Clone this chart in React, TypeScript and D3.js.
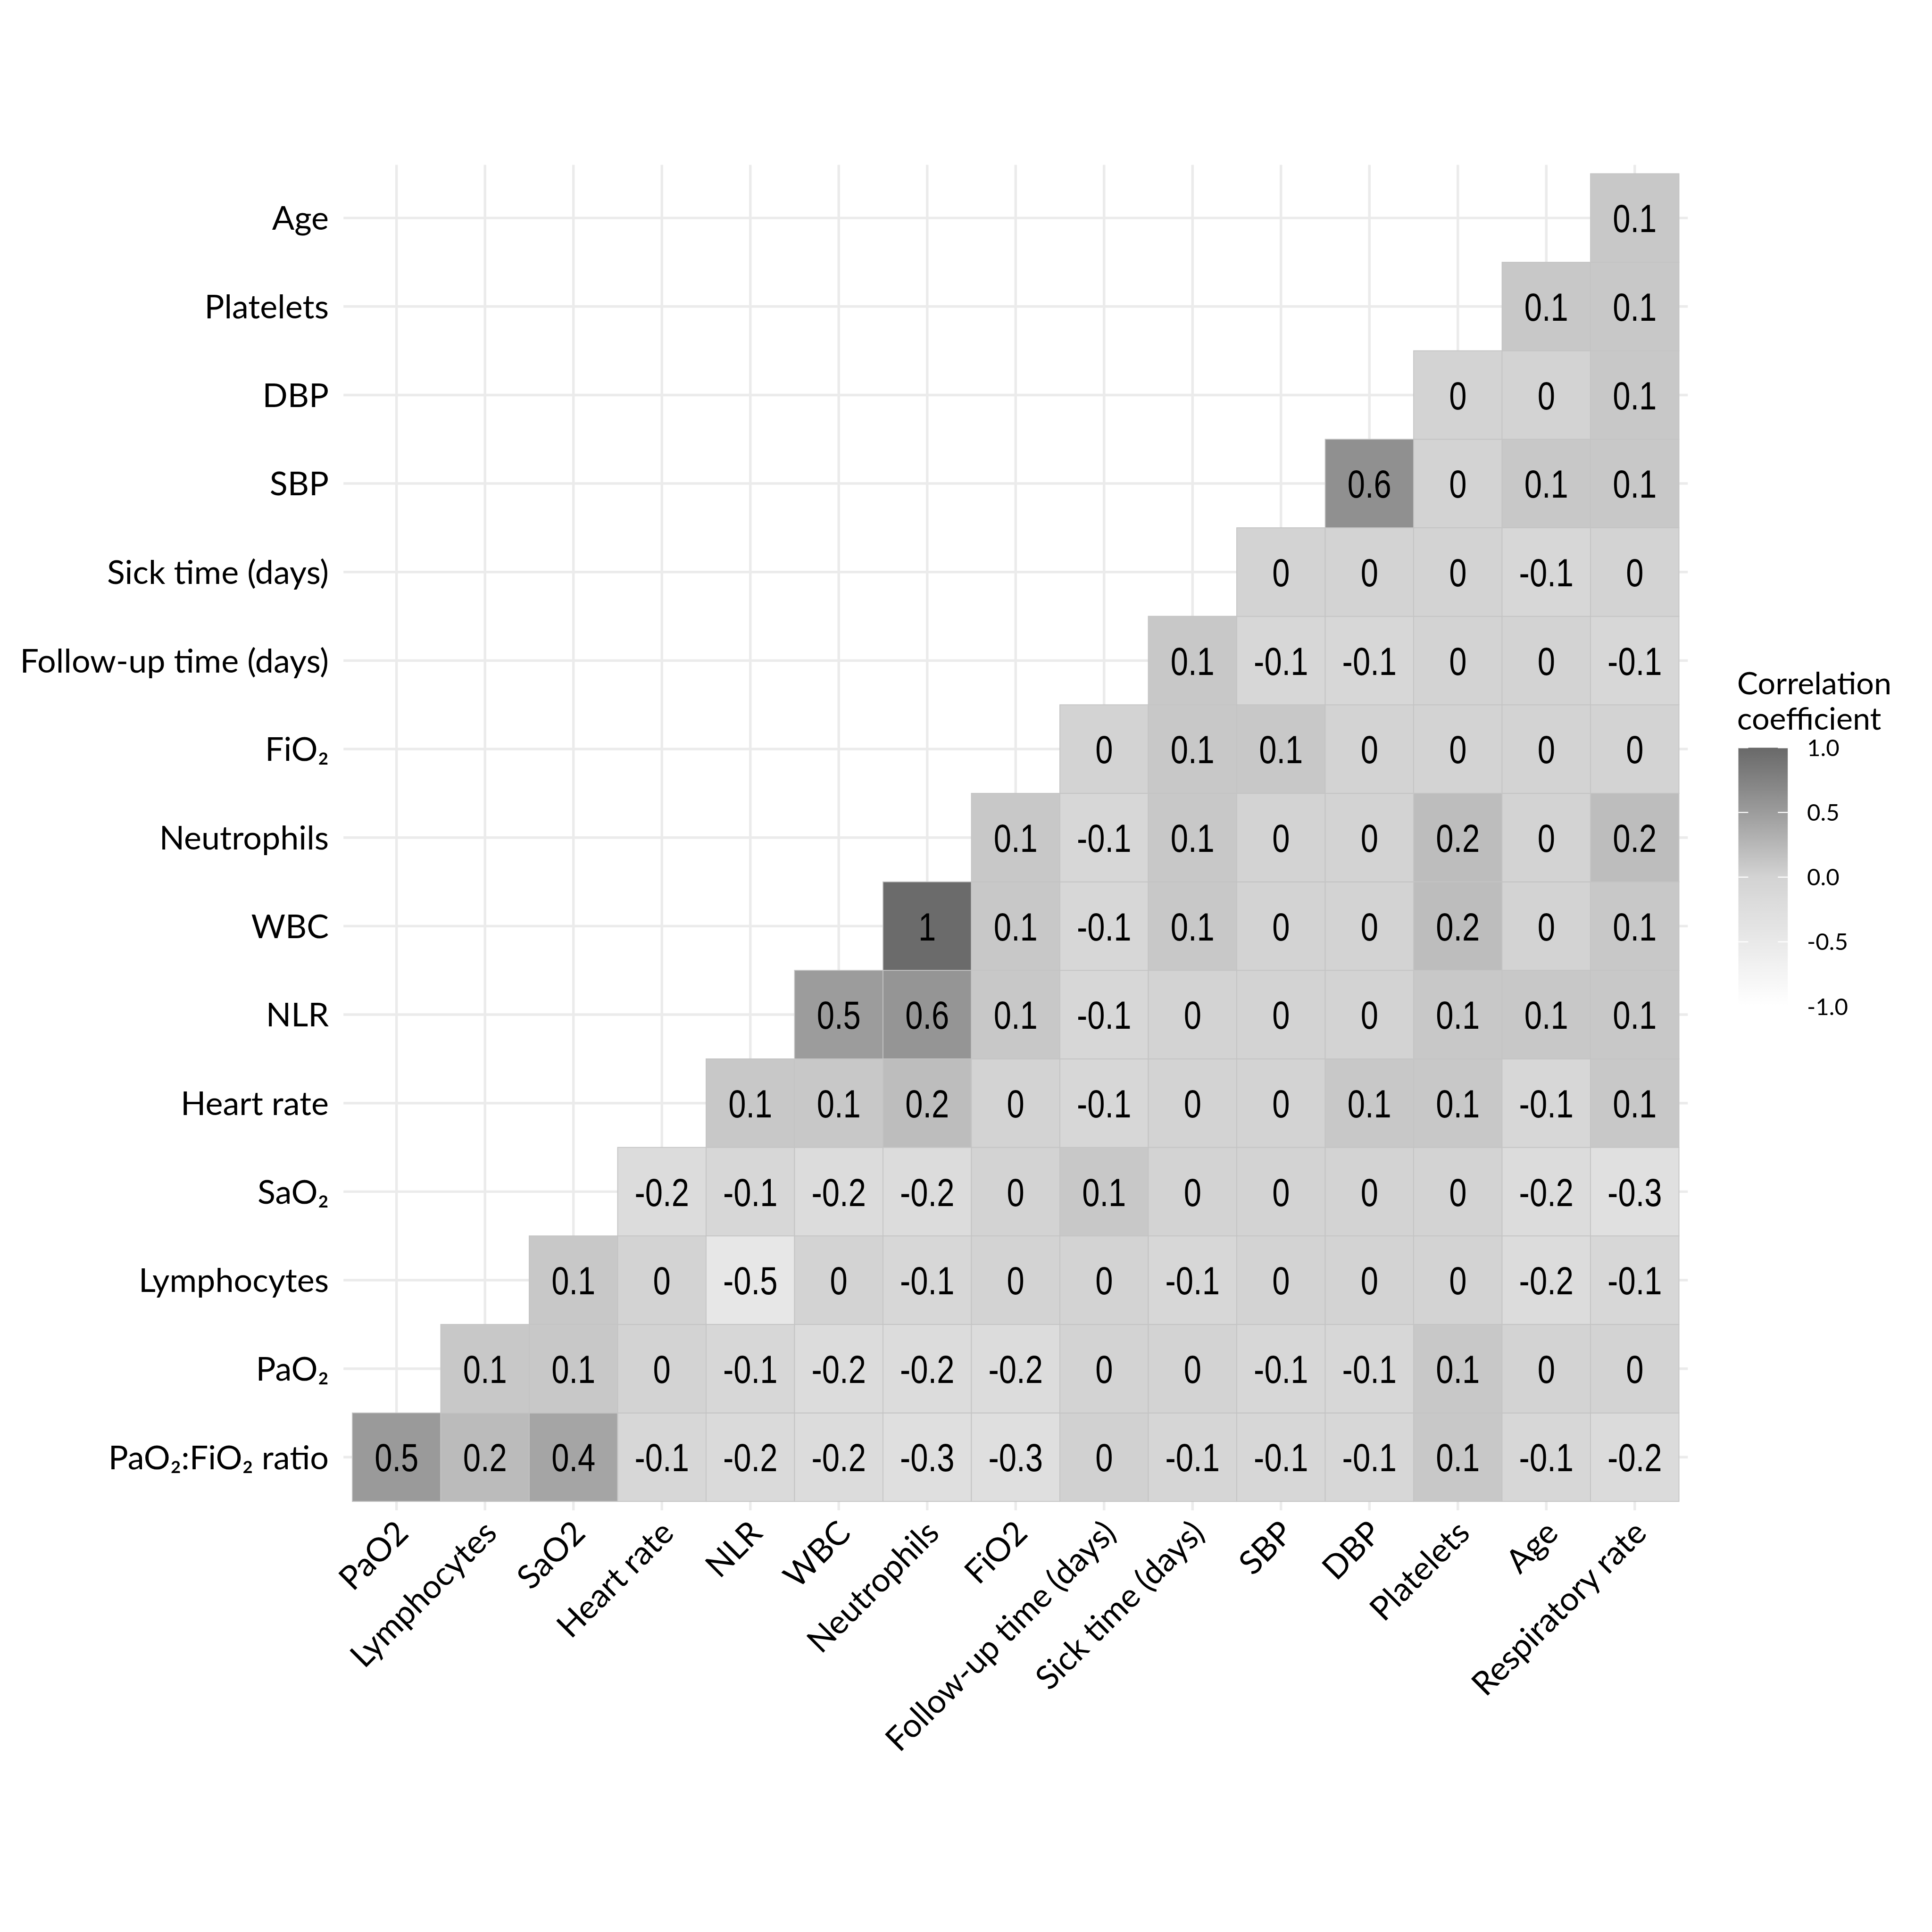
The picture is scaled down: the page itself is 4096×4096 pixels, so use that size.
import React from 'react';
import * as d3 from 'd3';

// variable order (bottom row first, then along the x axis)
const variables = [
  'PaO2:FiO2 ratio', 'PaO2', 'Lymphocytes', 'SaO2', 'Heart rate', 'NLR', 'WBC',
  'Neutrophils', 'FiO2', 'Follow-up time (days)', 'Sick time (days)', 'SBP', 'DBP',
  'Platelets', 'Age', 'Respiratory rate',
];

// labels on the y axis (rows, variables 0..14)
const rowLabels = [
  'PaO₂:FiO₂ ratio', 'PaO₂', 'Lymphocytes', 'SaO₂', 'Heart rate', 'NLR', 'WBC',
  'Neutrophils', 'FiO₂', 'Follow-up time (days)', 'Sick time (days)', 'SBP', 'DBP',
  'Platelets', 'Age',
];

// labels on the x axis (columns, variables 1..15)
const colLabels = [
  'PaO2', 'Lymphocytes', 'SaO2', 'Heart rate', 'NLR', 'WBC', 'Neutrophils', 'FiO2',
  'Follow-up time (days)', 'Sick time (days)', 'SBP', 'DBP', 'Platelets', 'Age',
  'Respiratory rate',
];

// correlations: row i holds r(variable i, variable j) for j = i+1 .. 15
const corrRows: number[][] = [
  [0.52, 0.22, 0.42, -0.1, -0.17, -0.2, -0.27, -0.27, 0.02, -0.08, -0.1, -0.1, 0.1, -0.1, -0.18],
  [0.1, 0.1, 0.0, -0.1, -0.2, -0.2, -0.2, 0.0, 0.0, -0.1, -0.1, 0.1, 0.0, 0.0],
  [0.1, 0.0, -0.46, 0.0, -0.1, 0.0, 0.0, -0.1, 0.0, 0.0, 0.0, -0.2, -0.1],
  [-0.2, -0.1, -0.2, -0.2, 0.0, 0.1, 0.0, 0.0, 0.0, 0.0, -0.2, -0.3],
  [0.1, 0.1, 0.2, 0.0, -0.1, 0.0, 0.0, 0.1, 0.1, -0.1, 0.1],
  [0.5, 0.57, 0.1, -0.1, 0.0, 0.0, 0.0, 0.1, 0.1, 0.1],
  [0.98, 0.1, -0.1, 0.1, 0.0, 0.0, 0.2, 0.0, 0.1],
  [0.1, -0.1, 0.1, 0.0, 0.0, 0.2, 0.0, 0.2],
  [0.0, 0.1, 0.1, 0.0, 0.0, 0.0, 0.0],
  [0.1, -0.1, -0.1, 0.0, 0.0, -0.1],
  [0.0, 0.0, 0.0, -0.1, 0.0],
  [0.62, 0.0, 0.1, 0.1],
  [0.0, 0.0, 0.1],
  [0.1, 0.1],
  [0.1],
];

const legendTicks = [-1, -0.5, 0, 0.5, 1];
const legendTitle = ['Correlation', 'coefficient'];

const S = 0.91;

function fmtCell(v: number): string {
  const r = Math.round(v * 10) / 10;
  return String(r === 0 ? 0 : r);
}

export default function App() {
  const W = 4096;
  const H = 4096;

  const x = d3.scaleBand<string>().domain(variables.slice(1)).range([820.8 * S, 3911.6 * S]);
  const y = d3.scaleBand<string>().domain(variables.slice(0, 15).reverse()).range([404.7 * S, 3498 * S]);
  const bw = x.bandwidth();
  const bh = y.bandwidth();

  const color = d3
    .scaleLinear<string>()
    .domain([-1, 0, 1])
    .range(['#ffffff', '#d3d3d3', '#696969'])
    .interpolate(d3.interpolateLab);

  const cells: { row: string; col: string; v: number }[] = [];
  corrRows.forEach((arr, i) => {
    arr.forEach((v, k) => {
      cells.push({ row: variables[i], col: variables[i + 1 + k], v });
    });
  });

  const panelX0 = x.range()[0] - 0.1 * bw;
  const panelX1 = x.range()[1] + 0.1 * bw;
  const panelY0 = y.range()[0] - 0.1 * bh;
  const panelY1 = y.range()[1] + 0.1 * bh;

  const axisFont = 'Lato, "Open Sans", sans-serif';
  const cellFont = '"Liberation Sans", Arial, sans-serif';

  // legend
  const legX0 = 4050 * S;
  const legW = 115 * S;
  const ly = d3.scaleLinear().domain([1, -1]).range([1742 * S, 2345 * S]);
  const gradStops = d3.range(0, 21).map((i) => -1 + i * 0.1);

  return (
    <svg
      width={W}
      height={H}
      style={{ position: 'absolute', left: 0, top: 0, background: '#ffffff' }}
      xmlns="http://www.w3.org/2000/svg"
    >
      <defs>
        <linearGradient id="legGrad" x1="0" y1="1" x2="0" y2="0">
          {gradStops.map((v) => (
            <stop key={v} offset={`${((v + 1) / 2) * 100}%`} stopColor={color(v)} />
          ))}
        </linearGradient>
      </defs>
      <rect x={0} y={0} width={W} height={H} fill="#ffffff" />

      {/* grid */}
      <g stroke="#ebebeb" strokeWidth={6 * S}>
        {x.domain().map((d) => (
          <line key={'gx' + d} x1={x(d)! + bw / 2} x2={x(d)! + bw / 2} y1={panelY0} y2={panelY1} />
        ))}
        {y.domain().map((d) => (
          <line key={'gy' + d} y1={y(d)! + bh / 2} y2={y(d)! + bh / 2} x1={panelX0} x2={panelX1} />
        ))}
      </g>

      {/* cells */}
      <g>
        {cells.map((c) => (
          <rect
            key={c.row + '|' + c.col}
            x={x(c.col)}
            y={y(c.row)}
            width={bw}
            height={bh}
            fill={color(c.v)}
            stroke="#c4c4c4"
            strokeWidth={2 * S}
          />
        ))}
      </g>
      <g fontFamily={cellFont} fontSize={92 * S} textAnchor="middle" fill="#000000">
        {cells.map((c) => (
          <g
            key={'t' + c.row + '|' + c.col}
            transform={`translate(${x(c.col)! + bw / 2},${y(c.row)! + bh / 2}) scale(0.8,1)`}
          >
            <text x={0} y={0} dy="0.36em">
              {fmtCell(c.v)}
            </text>
          </g>
        ))}
      </g>

      {/* y axis labels */}
      <g fontFamily={axisFont} fontSize={77 * S} textAnchor="end" fill="#000000">
        {variables.slice(0, 15).map((d, i) => (
          <text key={'yl' + d} x={766 * S} y={y(d)! + bh / 2} dy="0.36em">
            {rowLabels[i]}
          </text>
        ))}
      </g>

      {/* x axis labels */}
      <g fontFamily={axisFont} fontSize={77 * S} textAnchor="end" fill="#000000">
        {variables.slice(1).map((d, i) => (
          <text
            key={'xl' + d}
            transform={`translate(${x(d)! + bw / 2 + 32 * S},${3576 * S}) rotate(-45)`}
          >
            {colLabels[i]}
          </text>
        ))}
      </g>

      {/* legend */}
      <g fontFamily={axisFont} fill="#000000">
        {legendTitle.map((t, i) => (
          <text key={t} x={4047 * S} y={(1618 + i * 82) * S} fontSize={73 * S}>
            {t}
          </text>
        ))}
        <rect x={legX0} y={ly(1)} width={legW} height={ly(-1) - ly(1)} fill="url(#legGrad)" />
        <g stroke="#ffffff" strokeWidth={2.5 * S}>
          {legendTicks.map((t) => (
            <g key={'lt' + t}>
              <line x1={legX0} x2={legX0 + legW * 0.2} y1={ly(t)} y2={ly(t)} />
              <line x1={legX0 + legW * 0.8} x2={legX0 + legW} y1={ly(t)} y2={ly(t)} />
            </g>
          ))}
        </g>
        <g fontSize={54 * S}>
          {legendTicks.map((t) => (
            <text key={'ll' + t} x={4210 * S} y={ly(t)} dy="0.36em">
              {d3.format('.1f')(t).replace('−', '-')}
            </text>
          ))}
        </g>
      </g>
    </svg>
  );
}
